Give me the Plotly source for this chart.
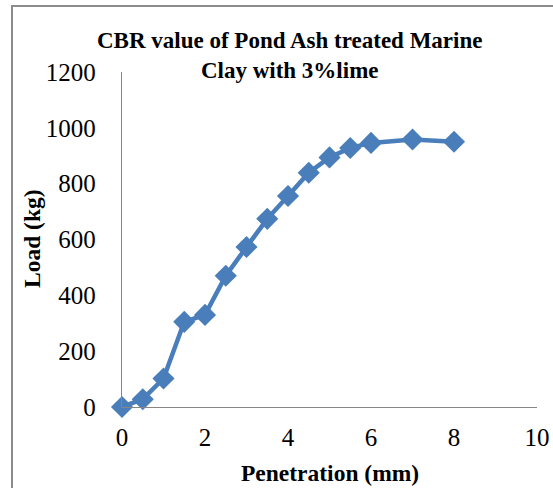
import plotly.graph_objects as go

# CBR test: penetration (mm) vs load (kg)
penetration_mm = [0, 0.5, 1, 1.5, 2, 2.5, 3, 3.5, 4, 4.5, 5, 5.5, 6, 7, 8]
load_kg = [0, 28, 102, 305, 330, 470, 573, 674, 756, 839, 894, 928, 946, 958, 950]

x_ticks = [0, 2, 4, 6, 8, 10]
y_ticks = [0, 200, 400, 600, 800, 1000, 1200]

W, H = 553, 488
L, R, T, B = 122, 16, 72, 81
pw, ph = W - L - R, H - T - B

serif = "Liberation Serif, Times New Roman, serif"
blue = "#4a7ebb"
axis_grey = "#868686"

fig = go.Figure()
fig.add_trace(go.Scatter(
    x=penetration_mm, y=load_kg, mode="lines+markers",
    line=dict(color=blue, width=4.5),
    marker=dict(symbol="diamond", size=17, color=blue),
    showlegend=False, cliponaxis=False,
))

def px_x(p):
    return (p - L) / pw

def px_y(p):
    return (H - B - p) / ph

fig.update_layout(
    width=W, height=H,
    margin=dict(l=L, r=R, t=T, b=B, autoexpand=False),
    paper_bgcolor="white", plot_bgcolor="white",
    font=dict(family=serif, color="black"),
    xaxis=dict(range=[0, 10], tickvals=x_ticks, ticktext=[str(v) for v in x_ticks],
               automargin=False,
               showgrid=False, zeroline=False, showline=True, linecolor=axis_grey,
               linewidth=1.3, ticks="", tickfont=dict(size=25, family=serif),
               ticklabelstandoff=8),
    yaxis=dict(range=[0, 1200], tickvals=y_ticks, ticktext=[str(v) for v in y_ticks],
               automargin=False,
               showgrid=False, zeroline=False, showline=True, linecolor=axis_grey,
               linewidth=1.3, ticks="", tickfont=dict(size=25, family=serif),
               ticklabelstandoff=20),
    shapes=[dict(type="rect", xref="paper", yref="paper",
                 x0=px_x(12), x1=px_x(W + 20), y0=px_y(H + 20), y1=px_y(6),
                 line=dict(color="#8c8c8c", width=2), fillcolor="rgba(0,0,0,0)",
                 layer="below")],
    annotations=[
        dict(text="<b>CBR value of Pond Ash treated Marine<br>Clay with 3%lime</b>",
             xref="paper", yref="paper", x=px_x(289), y=px_y(55),
             xanchor="center", yanchor="middle", showarrow=False,
             font=dict(size=23, family=serif), align="center"),
        dict(text="<b>Penetration (mm)</b>", xref="paper", yref="paper",
             x=px_x(330), y=px_y(473), xanchor="center", yanchor="middle",
             showarrow=False, font=dict(size=23.5, family=serif)),
        dict(text="<b>Load (kg)</b>", xref="paper", yref="paper",
             x=px_x(32), y=px_y(239), xanchor="center", yanchor="middle",
             textangle=-90, showarrow=False, font=dict(size=23.5, family=serif)),
    ],
)

fig.write_html("out.html")
